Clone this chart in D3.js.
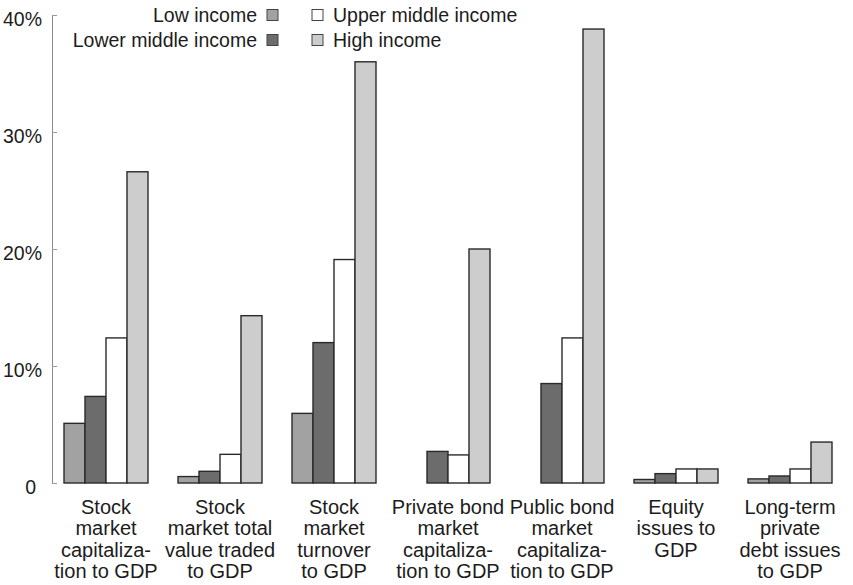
<!DOCTYPE html>
<html>
<head>
<meta charset="utf-8">
<script src="https://cdn.jsdelivr.net/npm/d3@7"></script>
<style>
  html, body { margin: 0; padding: 0; background: #fff; }
  svg { display: block; font-family: "Liberation Sans", Arial, Helvetica, sans-serif; }
</style>
</head>
<body>
<svg id="chart" width="853" height="585"></svg>
<script>
// ---- data ----
const categories = [
  ["Stock", "market", "capitaliza-", "tion to GDP"],
  ["Stock", "market total", "value traded", "to GDP"],
  ["Stock", "market", "turnover", "to GDP"],
  ["Private bond", "market", "capitaliza-", "tion to GDP"],
  ["Public bond", "market", "capitaliza-", "tion to GDP"],
  ["Equity", "issues to", "GDP"],
  ["Long-term", "private", "debt issues", "to GDP"]
];
const seriesNames = ["Low income", "Lower middle income", "Upper middle income", "High income"];
const lowIncome         = [5.1, 0.55, 5.95, 0,   0,    0.3, 0.35];
const lowerMiddleIncome = [7.4, 1.0, 12.0,  2.7, 8.5,  0.8, 0.6];
const upperMiddleIncome = [12.4, 2.45, 19.1, 2.4, 12.4, 1.2, 1.2];
const highIncome        = [26.6, 14.3, 36.0, 20.0, 38.8, 1.2, 3.5];
const seriesValues = [lowIncome, lowerMiddleIncome, upperMiddleIncome, highIncome];
const yTicks = [0, 10, 20, 30, 40];

// ---- styles ----
const fills = ["#a2a2a2", "#6c6c6c", "#ffffff", "#cdcdcd"];
const stroke = "#2a2a2a";
const textColor = "#1c1c1c";

const svg = d3.select("#chart");

const x0 = d3.scaleBand()
  .domain(d3.range(categories.length))
  .range([64, 832])
  .paddingInner(30 / 114)
  .paddingOuter(0);

const x1 = d3.scaleBand()
  .domain(d3.range(seriesNames.length))
  .range([0, x0.bandwidth()])
  .padding(0);

const y = d3.scaleLinear().domain([0, 40]).range([483, 15]);

// ---- axis ----
const yAxis = d3.axisLeft(y)
  .tickValues(yTicks)
  .tickFormat(d => d === 0 ? "0" : d + "%")
  .tickSizeInner(-5)
  .tickSizeOuter(0)
  .tickPadding(10);

const gAxis = svg.append("g")
  .attr("transform", "translate(52,0)")
  .call(yAxis);
gAxis.select(".domain").attr("stroke", "#8a8a8a").attr("stroke-width", 1);
gAxis.selectAll(".tick line").attr("stroke", "#9a9a9a");
gAxis.selectAll(".tick text")
  .attr("fill", textColor)
  .attr("font-size", "19.5px")
  .attr("font-family", "'Liberation Sans', Arial, sans-serif")
  .attr("dy", "0.55em")
  .attr("x", d => d === 0 ? -16 : -10);

// ---- bars ----
const groups = svg.append("g").selectAll("g")
  .data(categories.map((c, i) => i))
  .join("g")
  .attr("transform", i => `translate(${x0(i)},0)`);

groups.selectAll("rect")
  .data(i => seriesValues.map((vals, s) => ({ s, v: vals[i] })).filter(d => d.v > 0))
  .join("rect")
  .attr("x", d => x1(d.s))
  .attr("y", d => y(d.v))
  .attr("width", x1.bandwidth())
  .attr("height", d => y(0) - y(d.v))
  .attr("fill", d => fills[d.s])
  .attr("stroke", stroke)
  .attr("stroke-width", 1.4);

// ---- category labels ----
const lineH = 21.3;
svg.append("g").selectAll("text")
  .data(categories.map((c, i) => ({ c, i })))
  .join("text")
  .attr("text-anchor", "middle")
  .attr("font-size", "20px")
  .attr("fill", textColor)
  .attr("transform", d => `translate(${x0(d.i) + x0.bandwidth() / 2},514)`)
  .selectAll("tspan")
  .data(d => d.c)
  .join("tspan")
  .attr("x", 0)
  .attr("y", (t, k) => k * lineH)
  .text(t => t);

// ---- legend ----
const legendPos = [
  { sx: 267, y: 15, side: "left" },
  { sx: 267, y: 40, side: "left" },
  { sx: 312, y: 15, side: "right" },
  { sx: 312, y: 40, side: "right" }
];
const leg = svg.append("g").selectAll("g")
  .data(seriesNames.map((n, s) => ({ n, s })))
  .join("g")
  .attr("transform", d => `translate(${legendPos[d.s].sx},${legendPos[d.s].y})`);
leg.append("rect")
  .attr("x", 0).attr("y", -5.5)
  .attr("width", 11).attr("height", 11)
  .attr("fill", d => fills[d.s])
  .attr("stroke", "#444")
  .attr("stroke-width", 1);
leg.append("text")
  .attr("x", d => legendPos[d.s].side === "left" ? -10 : 21)
  .attr("y", 0)
  .attr("dy", "0.36em")
  .attr("text-anchor", d => legendPos[d.s].side === "left" ? "end" : "start")
  .attr("font-size", "19.5px")
  .attr("fill", textColor)
  .text(d => d.n);
</script>
</body>
</html>
